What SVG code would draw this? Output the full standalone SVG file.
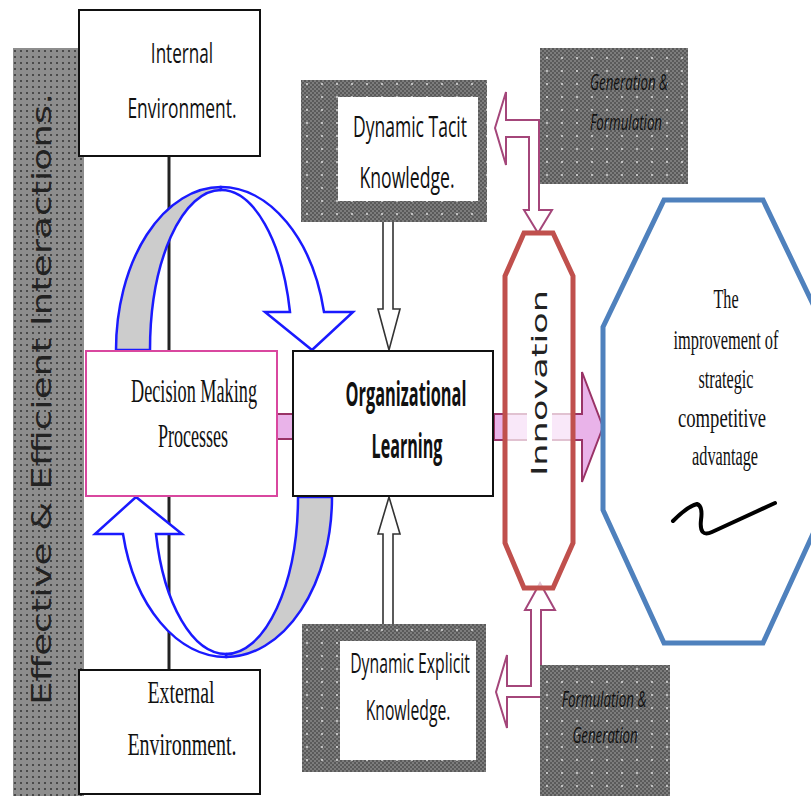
<svg xmlns="http://www.w3.org/2000/svg" width="811" height="796" viewBox="0 0 811 796">
  <defs>
    <!-- fine dark mesh used behind the knowledge / generation panels -->
    <pattern id="mesh" width="4" height="4" patternUnits="userSpaceOnUse">
      <rect width="4" height="4" fill="#7c7c7c"/>
      <rect width="2" height="2" fill="#5a5a5a"/>
      <rect x="2" y="2" width="2" height="2" fill="#5a5a5a"/>
    </pattern>
    <pattern id="sparks" width="15" height="13" patternUnits="userSpaceOnUse">
      <circle cx="7" cy="6" r="0.9" fill="#e8e8e8"/>
    </pattern>
    <!-- dotted fill of the side band -->
    <pattern id="stipple" width="6" height="6" patternUnits="userSpaceOnUse">
      <rect width="6" height="6" fill="#8d8d8d"/>
      <circle cx="3" cy="3" r="1" fill="#333"/>
    </pattern>
    <style>
      .box { fill: #fff; stroke: #111; stroke-width: 2; }
      .panel { fill: url(#mesh); }
      .panel-dots { fill: url(#sparks); }
      .sans { font-family: "Open Sans", "Liberation Sans", sans-serif; fill: #111; text-anchor: middle; }
      .serif { font-family: "Liberation Serif", "Times New Roman", serif; fill: #111; text-anchor: middle; }
      .wide { font-family: "DejaVu Sans", "Open Sans", sans-serif; fill: #222; }
      .loop-back { fill: #cccccc; stroke: #1a1aff; stroke-width: 2.5; stroke-linejoin: round; }
      .loop-front { fill: #fff; stroke: #1a1aff; stroke-width: 2.5; stroke-linejoin: miter; }
      .hollow { fill: #fff; stroke: #333; stroke-width: 1.6; }
      .mauve { fill: #fff; stroke: #a4467a; stroke-width: 2; }
      .pink { fill: #e9b3e9; stroke: #993366; stroke-width: 2; }
    </style>
  </defs>

  <rect width="811" height="796" fill="#fff"/>

  <!-- side band -->
  <g id="interactions-band">
    <rect x="13" y="48" width="71" height="748" fill="url(#stipple)"/>
    <text class="wide" transform="translate(51,705) rotate(-90)" font-size="26" textLength="612" lengthAdjust="spacingAndGlyphs">Effective &amp; Efficient Interactions.</text>
  </g>

  <!-- connectors -->
  <g id="connectors">
    <!-- vertical spine joining environments and decision making -->
    <line x1="169" y1="156" x2="169" y2="351" stroke="#222" stroke-width="3"/>
    <line x1="169" y1="496" x2="169" y2="670" stroke="#222" stroke-width="3"/>

    <!-- upper feedback loop -->
    <path class="loop-back" d="M116,350 A105,163 0 0 1 221,187 L221,190 A71,160 0 0 0 150,350 Z"/>
    <path class="loop-front" d="M221,187 A106,163 0 0 1 324,312 L353,312 L312,350 L265,312 L290,312 A71,160 0 0 0 221,190 Z"/>

    <!-- lower feedback loop -->
    <path class="loop-back" d="M332,497 A106,160 0 0 1 226,657 L226,654 A72,157 0 0 0 298,497 Z"/>
    <path class="loop-front" d="M226,657 A106,160 0 0 1 123,534 L95,534 L136,497 L182,534 L156,534 A72,157 0 0 0 226,654 Z"/>

    <!-- knowledge feeding organizational learning -->
    <path class="hollow" d="M383,200 L393,200 L393,309 L400,309 L389,350 L378,309 L383,309 Z"/>
    <path class="hollow" d="M389,497 L400,534 L393,534 L393,641 L383,641 L383,534 L378,534 Z"/>

    <!-- decision making to organizational learning -->
    <rect class="pink" x="277" y="414" width="16" height="25"/>

    <!-- organizational learning through innovation -->
    <path class="pink" d="M494,414 L582,414 L582,372 L603,427 L582,482 L582,440 L494,440 Z"/>

    <!-- generation / formulation links -->
    <path class="mauve" d="M495,128 L506,92 L506,120 L539,120 L539,210 L552,210 L538,233 L524,210 L529,210 L529,137 L506,137 L506,165 Z"/>
    <path class="mauve" d="M540,583 L555,610 L541,610 L541,697 L507,697 L507,728 L496,692 L507,655 L507,686 L531,686 L531,610 L525,610 Z"/>
  </g>

  <g id="internal-environment">
    <rect class="box" x="79" y="10" width="181" height="146"/>
    <text class="sans" transform="translate(182,63) scale(0.7,1)" font-size="28" textLength="89" lengthAdjust="spacingAndGlyphs">Internal</text>
    <text class="sans" transform="translate(182,118) scale(0.7,1)" font-size="28" textLength="156" lengthAdjust="spacingAndGlyphs">Environment.</text>
  </g>

  <g id="external-environment">
    <rect class="box" x="79" y="670" width="181" height="124"/>
    <text class="serif" transform="translate(181,703) scale(0.6,1)" font-size="32" textLength="112" lengthAdjust="spacingAndGlyphs">External</text>
    <text class="serif" transform="translate(182,755) scale(0.6,1)" font-size="32" textLength="182" lengthAdjust="spacingAndGlyphs">Environment.</text>
  </g>

  <g id="decision-making">
    <rect x="86" y="351" width="191" height="145" fill="#fff" stroke="#d9479f" stroke-width="2"/>
    <text class="serif" transform="translate(194,402) scale(0.6,1)" font-size="33" textLength="210" lengthAdjust="spacingAndGlyphs">Decision Making</text>
    <text class="serif" transform="translate(193,447) scale(0.6,1)" font-size="33" textLength="117" lengthAdjust="spacingAndGlyphs">Processes</text>
  </g>

  <g id="organizational-learning">
    <rect class="box" x="293" y="351" width="200" height="145"/>
    <text class="sans" transform="translate(406,406) scale(0.65,1)" font-size="34" font-weight="bold" textLength="186" lengthAdjust="spacingAndGlyphs">Organizational</text>
    <text class="sans" transform="translate(407,458) scale(0.65,1)" font-size="34" font-weight="bold" textLength="109" lengthAdjust="spacingAndGlyphs">Learning</text>
  </g>

  <g id="tacit-knowledge">
    <rect class="panel" x="301" y="80" width="186" height="142"/>
    <rect class="panel-dots" x="301" y="80" width="186" height="142"/>
    <rect x="338" y="97" width="140" height="104" fill="#fff"/>
    <text class="sans" transform="translate(410,137) scale(0.7,1)" font-size="30" textLength="163" lengthAdjust="spacingAndGlyphs">Dynamic Tacit</text>
    <text class="sans" transform="translate(407,188) scale(0.7,1)" font-size="30" textLength="136" lengthAdjust="spacingAndGlyphs">Knowledge.</text>
  </g>

  <g id="explicit-knowledge">
    <rect class="panel" x="302" y="624" width="184" height="148"/>
    <rect class="panel-dots" x="302" y="624" width="184" height="148"/>
    <rect x="340" y="641" width="136" height="119" fill="#fff"/>
    <text class="sans" transform="translate(410,673) scale(0.7,1)" font-size="27" textLength="171" lengthAdjust="spacingAndGlyphs">Dynamic Explicit</text>
    <text class="sans" transform="translate(408,720) scale(0.7,1)" font-size="27" textLength="121" lengthAdjust="spacingAndGlyphs">Knowledge.</text>
  </g>

  <g id="generation-formulation">
    <rect class="panel" x="540" y="48" width="148" height="136"/>
    <rect class="panel-dots" x="540" y="48" width="148" height="136"/>
    <text class="sans" transform="translate(629,90) scale(0.75,1)" font-size="21" font-style="italic" textLength="104" lengthAdjust="spacingAndGlyphs">Generation &amp;</text>
    <text class="sans" transform="translate(626,130) scale(0.75,1)" font-size="21" font-style="italic" textLength="96" lengthAdjust="spacingAndGlyphs">Formulation</text>
  </g>

  <g id="formulation-generation">
    <rect class="panel" x="540" y="665" width="130" height="131"/>
    <rect class="panel-dots" x="540" y="665" width="130" height="131"/>
    <text class="sans" transform="translate(604,707) scale(0.75,1)" font-size="21" font-style="italic" textLength="113" lengthAdjust="spacingAndGlyphs">Formulation &amp;</text>
    <text class="sans" transform="translate(605,743) scale(0.75,1)" font-size="21" font-style="italic" textLength="87" lengthAdjust="spacingAndGlyphs">Generation</text>
  </g>

  <g id="innovation">
    <polygon points="524,233 553,233 573,276 573,543 553,588 524,588 505,543 505,276" fill="#fff" fill-opacity="0.7" stroke="#c0504d" stroke-width="5" stroke-linejoin="miter"/>
    <rect x="527" y="412" width="25" height="30" fill="#fff"/>
    <text class="wide" transform="translate(547,476) rotate(-90)" font-size="22" textLength="186" lengthAdjust="spacingAndGlyphs">Innovation</text>
  </g>

  <g id="competitive-advantage">
    <polygon points="664,200 763,200 824,327 824,510 763,643 664,643 603,510 603,327" fill="#fff" stroke="#4f81bd" stroke-width="5"/>
    <text class="serif" transform="translate(726,308) scale(0.6,1)" font-size="28" textLength="42" lengthAdjust="spacingAndGlyphs">The</text>
    <text class="serif" transform="translate(726,349) scale(0.6,1)" font-size="28" textLength="175" lengthAdjust="spacingAndGlyphs">improvement of</text>
    <text class="serif" transform="translate(726,388) scale(0.6,1)" font-size="28" textLength="92" lengthAdjust="spacingAndGlyphs">strategic</text>
    <text class="serif" transform="translate(722,427) scale(0.6,1)" font-size="28" textLength="147" lengthAdjust="spacingAndGlyphs">competitive</text>
    <text class="serif" transform="translate(725,465) scale(0.6,1)" font-size="28" textLength="110" lengthAdjust="spacingAndGlyphs">advantage</text>
    <path d="M673,521 Q688,506 697,504 Q703,506 701,520 Q699,538 712,532 L775,503" fill="none" stroke="#000" stroke-width="4" stroke-linecap="round" stroke-linejoin="round"/>
  </g>
</svg>
